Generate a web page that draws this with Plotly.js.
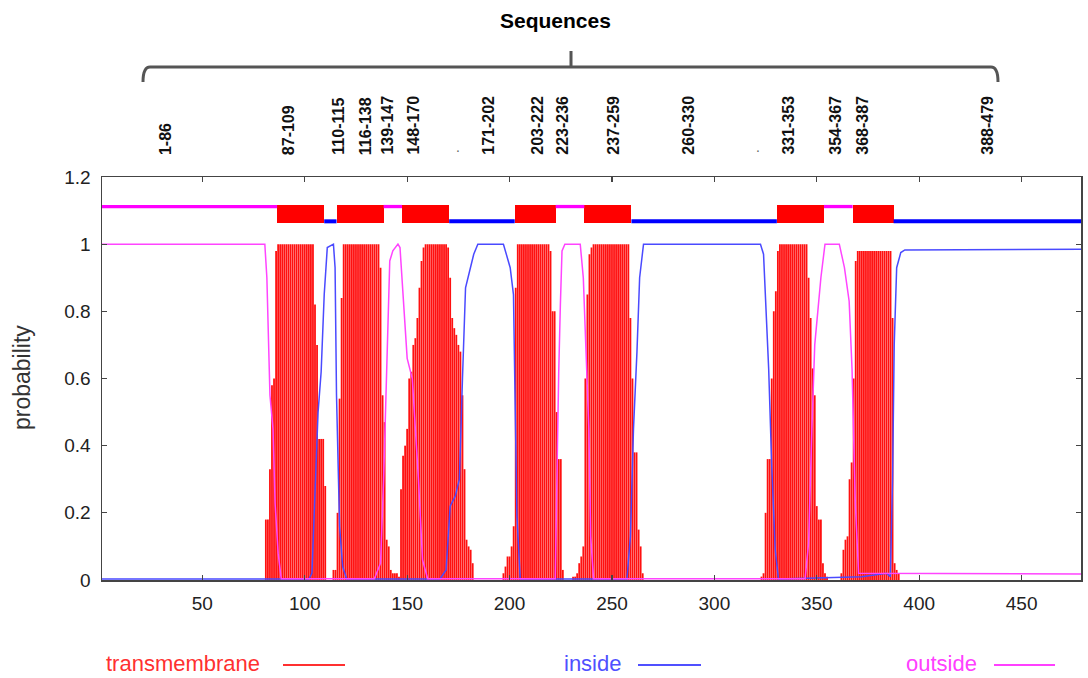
<!DOCTYPE html>
<html>
<head>
<meta charset="utf-8">
<script src="https://cdn.plot.ly/plotly-3.0.1.min.js"></script>
<style>html,body{margin:0;padding:0;background:#fff;}#chart{width:1088px;height:678px;}</style>
</head>
<body>
<div id="chart"></div>
<script>
// ---------- DATA ----------
const seqLength = 479;

// predicted topology segments
const segStart = [1, 87, 110, 116, 139, 148, 171, 203, 223, 237, 260, 331, 354, 368, 388];
const segEnd   = [86, 109, 115, 138, 147, 170, 202, 222, 236, 259, 330, 353, 367, 387, 479];
const segType  = ['outside','TM','inside','TM','outside','TM','inside','TM','outside','TM','inside','TM','outside','TM','inside'];

// transmembrane posterior probability, per residue, for each helix region (zero elsewhere)
const tm1Start = 81;
const tm1Values = [0.18,0.18,0.33,0.58,0.6,0.98,1,1,1,1,1,1,1,1,1,1,1,1,1,1,1,1,1,1,0.82,0.7,0.42,0.42,0.42,0.28];
const tm2Start = 114;
const tm2Values = [0.03,0.03,0.2,0.54,0.84,1,1,1,1,1,1,1,1,1,1,1,1,1,1,1,1,1,1,0.93,0.55,0.47,0.12,0.1,0.03,0.02,0.02,0.02,0.01];
const tm3Start = 147;
const tm3Values = [0.27,0.37,0.4,0.45,0.6,0.62,0.7,0.72,0.78,0.87,0.95,0.99,1,1,1,1,1,1,1,1,1,1,1,0.99,0.9,0.78,0.75,0.73,0.7,0.68,0.55,0.33,0.12,0.1,0.09,0.05];
const tm4Start = 197;
const tm4Values = [0.02,0.04,0.07,0.07,0.1,0.16,0.87,1,1,1,1,1,1,1,1,1,1,1,1,1,1,1,1,0.98,0.8,0.8,0.5,0.36,0.36,0.03];
const tm5Start = 231;
const tm5Values = [0.01,0.01,0.02,0.05,0.07,0.1,0.6,0.85,0.97,0.99,1,1,1,1,1,1,1,1,1,1,1,1,1,1,1,1,1,1,0.78,0.6,0.38,0.38,0.15,0.1,0.02];
const tm6Start = 323;
const tm6Values = [0.01,0.02,0.2,0.36,0.36,0.6,0.8,0.86,0.98,1,1,1,1,1,1,1,1,1,1,1,1,1,1,0.9,0.78,0.63,0.55,0.22,0.18,0.18,0.05,0.02,0.01];
const tm7Start = 362;
const tm7Values = [0.02,0.09,0.12,0.13,0.3,0.35,0.6,0.95,0.98,0.98,0.98,0.98,0.98,0.98,0.98,0.98,0.98,0.98,0.98,0.98,0.98,0.98,0.98,0.98,0.98,0.78,0.05,0.03,0.02];

// inside probability curve (vertices)
const insideX = [1,102,103.5,105,106.5,108,109.5,111,114,114.8,115.5,117,118.5,120.5,
  166,169,171,173.5,175.5,177,178.5,180.5,182.5,184.5,
  197,200.3,201.9,202.7,203.6,205.2,
  257.3,259,260.5,262.2,263.5,265.4,
  322.5,324,325,326.5,328,329.7,331.3,
  372,384,385.9,387,387.8,389,391,393,479];
const insideY = [0.003,0.003,0.02,0.27,0.5,0.62,0.85,0.99,1.0,0.93,0.55,0.16,0.04,0.003,
  0.003,0.03,0.22,0.25,0.3,0.6,0.87,0.92,0.97,1.0,
  1.0,0.93,0.85,0.53,0.19,0.003,
  0.003,0.13,0.45,0.68,0.9,1.0,
  1.0,0.97,0.85,0.63,0.34,0.09,0.003,
  0.01,0.02,0.01,0.3,0.7,0.93,0.975,0.983,0.985];

// outside probability curve (vertices)
const outsideX = [1,80.5,81.5,83,84.5,85.5,87,88.5,
  134,137,138.5,140,141.5,143,145.5,146.5,148,150,152.5,154,155.5,157.5,160,
  222.3,223.2,224,224.8,225.6,227,234.5,236,237.5,238.7,239.6,241,
  344.3,346,347.6,349,350.5,352,354,361,363.5,365.8,367.2,368.8,370.4,479];
const outsideY = [1.0,1.0,0.9,0.55,0.45,0.23,0.08,0.004,
  0.004,0.05,0.3,0.6,0.95,0.98,1.0,0.99,0.85,0.66,0.6,0.45,0.3,0.06,0.004,
  0.004,0.36,0.62,0.82,0.98,1.0,1.0,0.9,0.65,0.45,0.13,0.004,
  0.004,0.11,0.45,0.7,0.8,0.9,1.0,1.0,0.93,0.83,0.63,0.23,0.02,0.018];

// tick labels
const xTickVals = [50,100,150,200,250,300,350,400,450];
const xTickText = ['50','100','150','200','250','300','350','400','450'];
const yTickVals = [0,0.2,0.4,0.6,0.8,1,1.2];
const yTickText = ['0','0.2','0.4','0.6','0.8','1','1.2'];

const legendNames = ['transmembrane','inside','outside'];
const chartTitle = 'Sequences';
const yTitle = 'probability';

// ---------- BUILD ----------
const tmProb = new Array(seqLength).fill(0);
[[tm1Start,tm1Values],[tm2Start,tm2Values],[tm3Start,tm3Values],[tm4Start,tm4Values],
 [tm5Start,tm5Values],[tm6Start,tm6Values],[tm7Start,tm7Values]].forEach(([s,v]) => {
  v.forEach((p,k) => { tmProb[s - 1 + k] = p; });
});
// impulses (vertical lines from 0 to the value at each residue)
const impX = [], impY = [];
tmProb.forEach((p,i) => { if (p > 0) { impX.push(i + 1, i + 1, null); impY.push(0, p, null); } });

// topology track
const TRACK_IN = 1.068, TRACK_OUT = 1.112, BOX_BASE = 1.064, BOX_H = 0.053;
const boxX = [], boxW = [], boxY = [], boxBase = [];
const inLX = [], inLY = [], outLX = [], outLY = [];
segType.forEach((t,i) => {
  const s = segStart[i], e = segEnd[i];
  if (t === 'TM') {
    boxX.push((s + e) / 2); boxW.push(e - s + 1); boxY.push(BOX_H); boxBase.push(BOX_BASE);
  } else {
    const x0 = (s === 1) ? 1 : s - 0.5;
    const x1 = (e === seqLength) ? seqLength : e + 0.5;
    if (t === 'inside') { inLX.push(x0, x1, null); inLY.push(TRACK_IN, TRACK_IN, null); }
    else { outLX.push(x0, x1, null); outLY.push(TRACK_OUT, TRACK_OUT, null); }
  }
});

const FONT = '"Liberation Sans", Arial, sans-serif';
const traces = [
  { type:'scatter', mode:'lines', x: impX, y: impY, line:{color:'#ff1010', width:1.8},
    connectgaps:false, hoverinfo:'skip', showlegend:false },
  { type:'scatter', mode:'lines', x: insideX, y: insideY, line:{color:'#4a4aff', width:1.5},
    hoverinfo:'skip', showlegend:false },
  { type:'scatter', mode:'lines', x: outsideX, y: outsideY, line:{color:'#ff44ff', width:1.5},
    hoverinfo:'skip', showlegend:false },
  { type:'scatter', mode:'lines', x: outLX, y: outLY, line:{color:'#ff00ff', width:3.3},
    hoverinfo:'skip', showlegend:false },
  { type:'scatter', mode:'lines', x: inLX, y: inLY, line:{color:'#0000ff', width:4},
    hoverinfo:'skip', showlegend:false },
  { type:'bar', x: boxX, y: boxY, base: boxBase, width: boxW, marker:{color:'#ff0000', line:{width:0}},
    hoverinfo:'skip', showlegend:false }
];

// pixel -> paper helpers for decorations
const L = 102, T = 177, W = 979, H = 403;
const px = v => (v - L) / W;
const py = v => (T + H - v) / H;

// sequence labels above the plot
const seqLabelX = [31.8, 91.9, 116.3, 129.5, 140.2, 152.9, 189.6, 213.5, 225.7, 250.6, 287.2, 336, 359, 372.2, 433.2];
const annotations = [];
segStart.forEach((s,i) => {
  annotations.push({ xref:'x', yref:'paper', x: seqLabelX[i], y: py(156), xanchor:'center', yanchor:'bottom',
    text: '<b>' + s + '-' + segEnd[i] + '</b>', textangle: -90, showarrow:false, borderpad:0,
    font:{family:FONT, size:16, color:'#111'} });
});
[175, 321.4].forEach(x => annotations.push({ xref:'x', yref:'paper', x, y: py(156), xanchor:'center', yanchor:'bottom',
  text:'.', showarrow:false, borderpad:0, font:{family:FONT, size:14, color:'#666'} }));

annotations.push({ xref:'paper', yref:'paper', x: px(555), y: py(21), xanchor:'center', yanchor:'middle',
  text:'<b>' + chartTitle + '</b>', showarrow:false, font:{family:FONT, size:21, color:'#000'} });
annotations.push({ xref:'paper', yref:'paper', x: px(22), y: py(378), xanchor:'center', yanchor:'middle',
  text: yTitle, textangle:-90, showarrow:false, font:{family:FONT, size:23, color:'#333'} });

// legend (drawn below the plot)
const legendColors = ['#ff3030','#5050ff','#ff40ff'];
const legendTextX = [105, 563, 905];
const legendLine = [[283,345],[638,701],[994,1055]];
const shapes = [];
legendNames.forEach((n,i) => {
  annotations.push({ xref:'paper', yref:'paper', x: px(legendTextX[i]), y: py(663), xanchor:'left', yanchor:'middle',
    text:n, showarrow:false, borderpad:0, font:{family:FONT, size:22, color:legendColors[i]} });
  shapes.push({ type:'line', xref:'paper', yref:'paper', x0: px(legendLine[i][0]), x1: px(legendLine[i][1]),
    y0: py(665), y1: py(665), line:{color:legendColors[i], width:2} });
});

// brace over the sequence labels
const bx0 = 143, bx1 = 998, bmid = 571, byL = 67, byE = 82;
const P = (x,y) => px(x) + ',' + py(y);
shapes.push({ type:'path', xref:'paper', yref:'paper',
  path: 'M' + P(bx0, byE) + ' Q' + P(bx0, byL) + ' ' + P(bx0 + 7, byL) + ' L' + P(bx1 - 7, byL) +
        ' Q' + P(bx1, byL) + ' ' + P(bx1, byE) + ' M' + P(bmid, byL) + ' L' + P(bmid, 51),
  line:{color:'#555', width:3} });

const axisCommon = { ticks:'inside', ticklen:5, tickwidth:1.2, tickcolor:'#444', mirror:'allticks',
  showline:true, linecolor:'#444', linewidth:1.5, showgrid:false, zeroline:false,
  tickfont:{family:FONT, size:19, color:'#222'} };

const layout = {
  width:1088, height:678, margin:{l:L, r:1088 - L - W, t:T, b:678 - T - H, pad:0},
  paper_bgcolor:'#fff', plot_bgcolor:'#fff', barmode:'overlay', bargap:0, showlegend:false,
  xaxis: Object.assign({}, axisCommon, { range:[1, seqLength], tickvals:xTickVals, ticktext:xTickText, ticklabelstandoff:6 }),
  yaxis: Object.assign({}, axisCommon, { range:[0, 1.2], tickvals:yTickVals, ticktext:yTickText, ticklabelstandoff:6 }),
  annotations, shapes
};

Plotly.newPlot('chart', traces, layout, {displayModeBar:false, staticPlot:true});
</script>
</body>
</html>
